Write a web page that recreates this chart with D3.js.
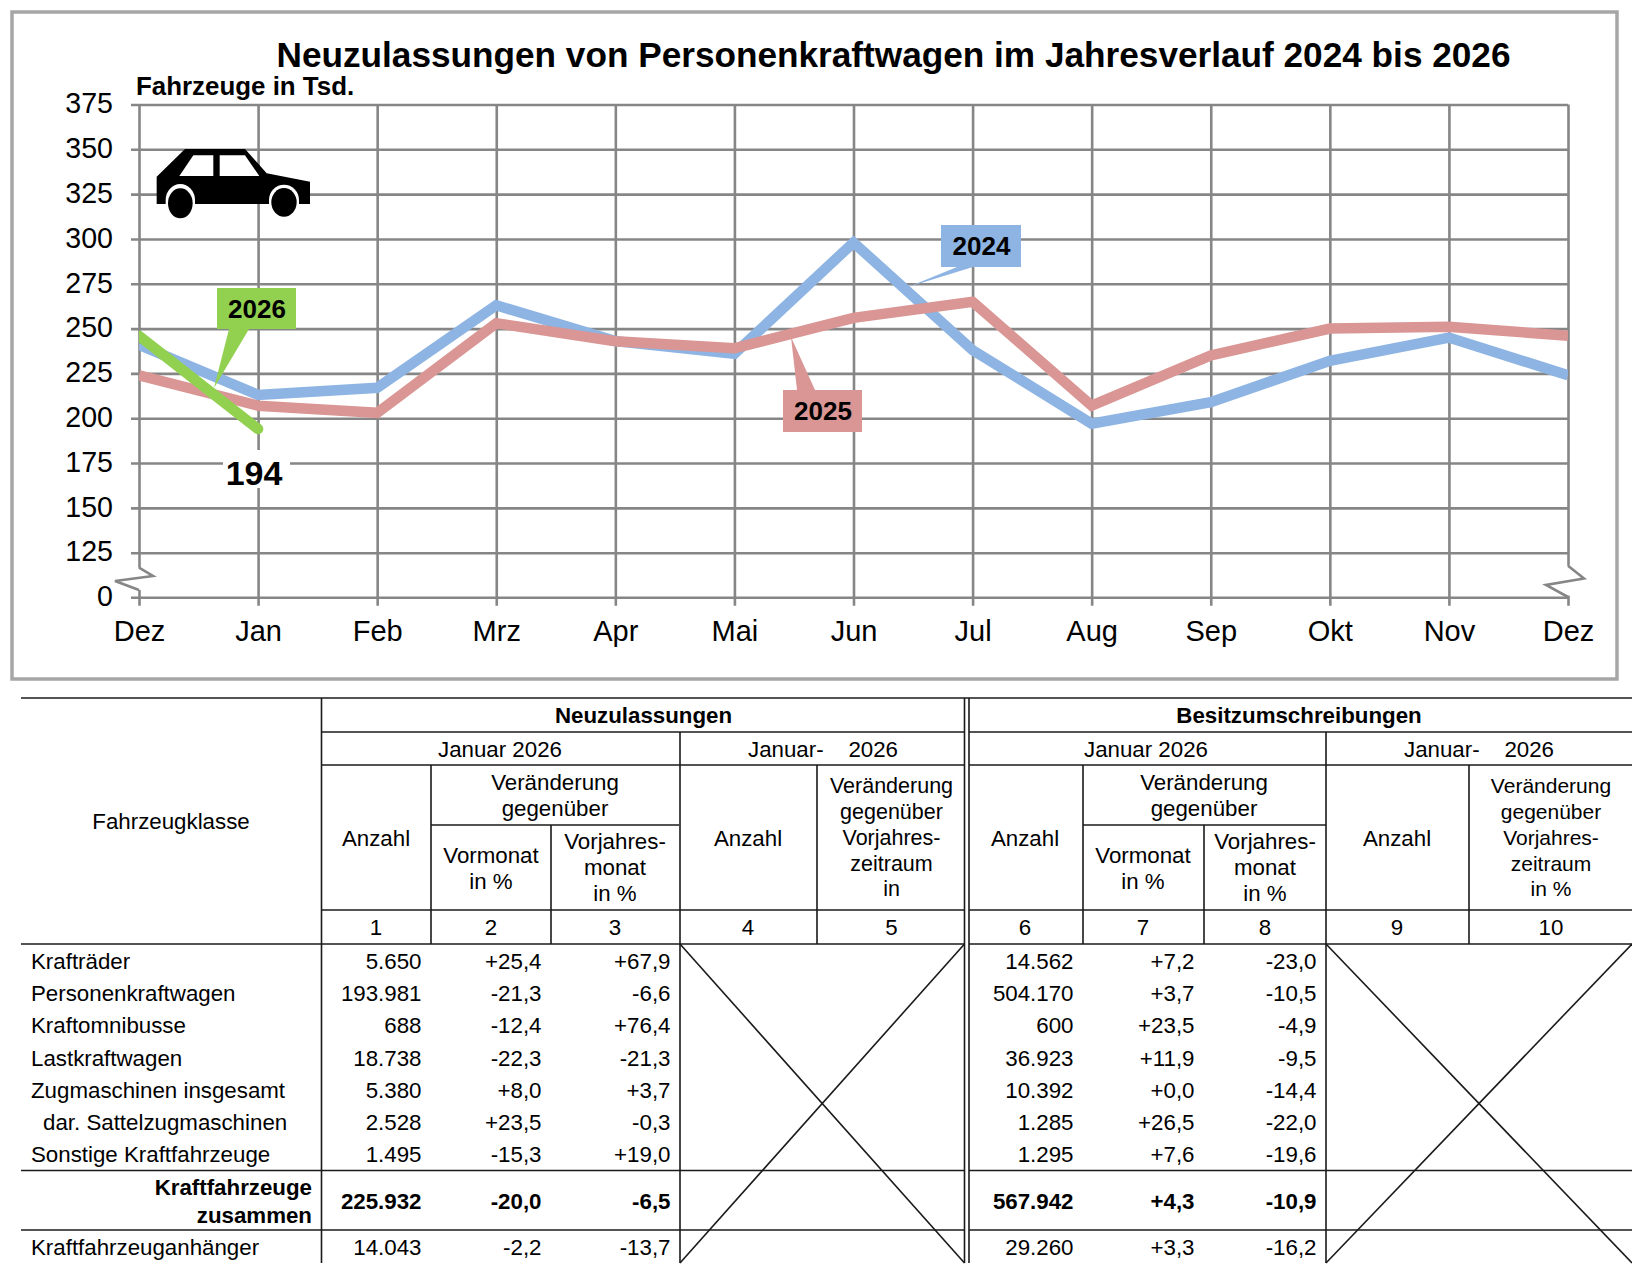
<!DOCTYPE html>
<html><head><meta charset="utf-8">
<script src="https://cdn.jsdelivr.net/npm/d3@7/dist/d3.min.js"></script>
<style>html,body{margin:0;padding:0;background:#fff}svg{display:block}text{font-family:"Liberation Sans",Arial,sans-serif;fill:#000}</style>
</head><body><svg id="c" width="1632" height="1284"></svg>
<script>
const months = ["Dez","Jan","Feb","Mrz","Apr","Mai","Jun","Jul","Aug","Sep","Okt","Nov","Dez"];
const yTicks = [0,125,150,175,200,225,250,275,300,325,350,375];
const s2024 = [241,213,217,263,243,236,298,238,197,209,232,245,224];
const s2025 = [224,207,203,253,243,239,256,265,207,235,250,251,246];
const s2026 = [246,194];
const rowNames = ["Krafträder","Personenkraftwagen","Kraftomnibusse","Lastkraftwagen","Zugmaschinen insgesamt","dar. Sattelzugmaschinen","Sonstige Kraftfahrzeuge","Kraftfahrzeuge zusammen","Kraftfahrzeuganhänger"];
const col1 = ["5.650","193.981","688","18.738","5.380","2.528","1.495","225.932","14.043"];
const col2 = ["+25,4","-21,3","-12,4","-22,3","+8,0","+23,5","-15,3","-20,0","-2,2"];
const col3 = ["+67,9","-6,6","+76,4","-21,3","+3,7","-0,3","+19,0","-6,5","-13,7"];
const col6 = ["14.562","504.170","600","36.923","10.392","1.285","1.295","567.942","29.260"];
const col7 = ["+7,2","+3,7","+23,5","+11,9","+0,0","+26,5","+7,6","+4,3","+3,3"];
const col8 = ["-23,0","-10,5","-4,9","-9,5","-14,4","-22,0","-19,6","-10,9","-16,2"];

const svg = d3.select("#c");
const GRID="#868686", C24="#8DB4E2", C25="#D99694", C26="#92D050";
svg.append("rect").attr("x",12).attr("y",12).attr("width",1605).attr("height",667).attr("fill","#fff").attr("stroke","#a6a6a6").attr("stroke-width",3.5);

const x = d3.scalePoint().domain(d3.range(months.length)).range([139,1568]);
const y = d3.scaleLinear().domain([0,125,375]).range([597.3,552.7,104.5]);

// gridlines + axes
const gy = svg.append("g").attr("transform","translate(139,0)")
  .call(d3.axisLeft(y).tickValues(yTicks).tickSizeOuter(0).tickFormat(d3.format("d")));
gy.select(".domain").remove();
gy.selectAll(".tick line").attr("x1",-8).attr("x2",1429).attr("stroke",GRID).attr("stroke-width",2.6);
gy.selectAll(".tick text").attr("x",-26).attr("dy","0.29em").attr("font-size",28.6).attr("fill","#000");
gy.attr("font-family",null).attr("font-size",null);

const gx = svg.append("g").attr("transform",`translate(0,${y(0)})`)
  .call(d3.axisBottom(x).tickFormat(i=>months[i]).tickSizeOuter(0));
gx.select(".domain").remove();
gx.selectAll(".tick line").attr("y1",y(375)-y(0)).attr("y2",8.4).attr("stroke",GRID).attr("stroke-width",2.6);
gx.selectAll(".tick text").attr("y",34).attr("dy","0.35em").attr("font-size",29).attr("fill","#000");
gx.attr("font-family",null).attr("font-size",null);

// axis breaks
svg.append("rect").attr("x",135).attr("y",567.7).attr("width",8).attr("height",22.3).attr("fill","#fff");
svg.append("rect").attr("x",1564).attr("y",565.7).attr("width",8).attr("height",30).attr("fill","#fff");
const brk=d3.line();
svg.append("path").attr("d",brk([[139,567.7],[153,576],[115,581],[139,590]])).attr("fill","none").attr("stroke",GRID).attr("stroke-width",2.6);
svg.append("path").attr("d",brk([[1568,565.7],[1584,578.5],[1546,585],[1568,597]])).attr("fill","none").attr("stroke",GRID).attr("stroke-width",2.6);

// car icon
const car = svg.append("g").attr("transform","scale(0.33333)");
car.append("path").attr("d","M470,530L555,447L735,447L800,520L930,545L930,612L470,612Z").attr("fill","#000");
car.append("path").attr("d","M538,528L580,466L640,466L640,528Z").attr("fill","#fff");
car.append("path").attr("d","M659,466L735,466L778,528L659,528Z").attr("fill","#fff");
[[541,610,37,45],[852,607,38,43]].forEach(([cx,cy,rx,ry])=>{
  car.append("path").attr("d",`M${cx-rx-7},614L${cx-rx-7},600A${rx+7},${ry+3} 0 0 1 ${cx+rx+7},600L${cx+rx+7},614Z`).attr("fill","#fff");
  car.append("ellipse").attr("cx",cx).attr("cy",cy).attr("rx",rx).attr("ry",ry).attr("fill","#000");
});

svg.append("clipPath").attr("id","pc").append("rect").attr("x",139).attr("y",100).attr("width",1429).attr("height",500);
const line = d3.line().x((d,i)=>x(i)).y(d=>y(d)).curve(d3.curveLinear);
[[s2024,C24,"butt"],[s2025,C25,"butt"],[s2026,C26,"round"]].forEach(([s,c,cap])=>{
  svg.append("path").datum(s).attr("d",line).attr("clip-path","url(#pc)").attr("fill","none")
    .attr("stroke",c).attr("stroke-width",10.5).attr("stroke-linejoin","miter").attr("stroke-linecap",cap);
});

function callout(x0,y0,x1,y1,ptr,c,t){
  svg.append("path").attr("d",d3.line()(ptr)+"Z").attr("fill",c);
  svg.append("rect").attr("x",x0).attr("y",y0).attr("width",x1-x0).attr("height",y1-y0).attr("fill",c);
  svg.append("text").attr("x",(x0+x1)/2+0.5).attr("y",(y0+y1)/2).attr("dy","0.36em").attr("text-anchor","middle").attr("font-size",26).attr("font-weight","bold").text(t);
}
callout(217,288,296,329,[[229,329],[249,329],[214,388]],C26,"2026");
callout(941,225,1021,267,[[957,267],[973,267],[908,287]],C24,"2024");
callout(783,390,862,432,[[797,390],[815,390],[791,337]],C25,"2025");

// 194 label
svg.append("rect").attr("x",223).attr("y",450).attr("width",67).attr("height",38).attr("fill","#fff");
svg.append("text").attr("x",254).attr("y",484.5).attr("text-anchor","middle").attr("font-size",34).attr("font-weight","bold").text("194");

// titles
svg.append("text").attr("x",893.5).attr("y",67).attr("text-anchor","middle").attr("font-size",35.2).attr("font-weight","bold").text("Neuzulassungen von Personenkraftwagen im Jahresverlauf 2024 bis 2026");
svg.append("text").attr("x",136).attr("y",95).attr("font-size",25.9).attr("font-weight","bold").text("Fahrzeuge in Tsd.");

// table rules
const T = svg.append("g").attr("stroke","#1a1a1a").attr("stroke-width",1.6);
const hr=(x1,x2,yy)=>T.append("line").attr("x1",x1).attr("x2",x2).attr("y1",yy).attr("y2",yy);
const vr=(xx,y1,y2)=>T.append("line").attr("x1",xx).attr("x2",xx).attr("y1",y1).attr("y2",y2);
hr(21,1632,698);
[732,765,910].forEach(v=>{hr(321,964.5,v);hr(969,1632,v);});
hr(431,679,825);hr(1083,1326,825);
hr(21,964.5,944);hr(969,1632,944);
hr(21,964.5,1170.5);hr(969,1632,1170.5);
hr(21,964.5,1230);hr(969,1632,1230);
vr(321.5,698,1263);vr(431,765,944);vr(551,825,944);vr(680,732,1263);vr(817,765,944);
vr(964.5,698,1263);vr(969,698,1263);
vr(1083,765,944);vr(1204,825,944);vr(1326,732,1263);vr(1469,765,944);
[[680,964.5],[1326,1632]].forEach(([a,b])=>{
  T.append("line").attr("x1",a).attr("y1",944).attr("x2",b).attr("y2",1263);
  T.append("line").attr("x1",b).attr("y1",944).attr("x2",a).attr("y2",1263);
});

const FS=22.3;
function tx(t,xx,yy,anchor="middle",bold=false,fs=FS){
  svg.append("text").attr("x",xx).attr("y",yy).attr("dy","0.3em").attr("text-anchor",anchor).attr("font-size",fs).attr("font-weight",bold?"bold":"normal").text(t);
}
tx("Neuzulassungen",643.5,716,"middle",true);
tx("Besitzumschreibungen",1299,716,"middle",true);
tx("Januar 2026",500,750);tx("Januar-\u00A0\u00A0\u00A0 2026",823,750);
tx("Januar 2026",1146,750);tx("Januar-\u00A0\u00A0\u00A0 2026",1479,750);
tx("Fahrzeugklasse",171,822);
[376,748,1025,1397].forEach(v=>tx("Anzahl",v,839));
[[555,491,615],[1204,1143,1265]].forEach(([a,b,c])=>{
  tx("Veränderung",a,783);tx("gegenüber",a,809);
  tx("Vormonat",b,856);tx("in %",b,882);
  tx("Vorjahres-",c,842);tx("monat",c,868);tx("in %",c,894);
});
[[891.5,"in",21.5],[1551,"in %",21]].forEach(([a,l,f])=>{
  tx("Veränderung",a,787,"middle",false,f);tx("gegenüber",a,813,"middle",false,f);tx("Vorjahres-",a,839,"middle",false,f);tx("zeitraum",a,865,"middle",false,f);tx(l,a,890,"middle",false,f);
});
["1","2","3","4","5","6","7","8","9","10"].forEach((t,i)=>tx(t,[376,491,615,748,891.5,1025,1143,1265,1397,1551][i],928));

const rowY=[962,994,1026,1059,1091,1123,1155,1202,1248];
rowNames.forEach((n,i)=>{
  if(i===7){tx("Kraftfahrzeuge",312,1188,"end",true);tx("zusammen",312,1216,"end",true);}
  else tx(n,i===5?43:31,rowY[i],"start");
});
[[col1,421.5],[col2,541.5],[col3,670.5],[col6,1073.5],[col7,1194.5],[col8,1316.5]].forEach(([c,xx])=>{
  c.forEach((v,i)=>tx(v,xx,rowY[i],"end",i===7));
});
</script></body></html>
